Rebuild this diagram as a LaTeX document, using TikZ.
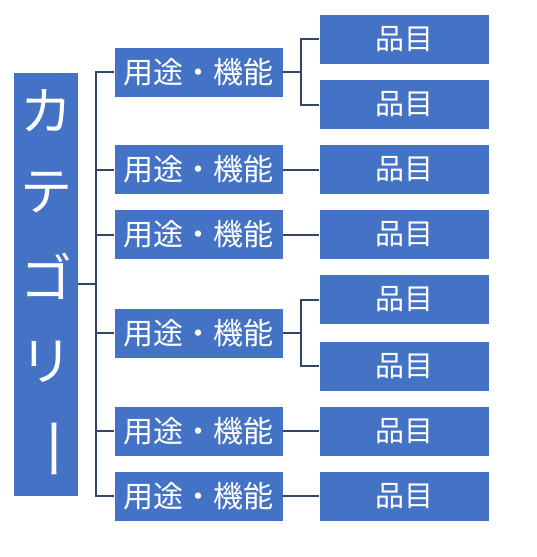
\documentclass[tikz,border=0pt]{standalone}
\usepackage{fontspec}
\newfontfamily\jpfont{Noto Sans CJK JP}
\definecolor{boxblue}{HTML}{4472C4}
\definecolor{linkcol}{HTML}{33466A}
\tikzset{
  catbox/.style={fill=boxblue, draw=none, minimum width=64pt, minimum height=423pt, inner sep=0pt},
  catchar/.style={text=white, font=\jpfont\fontsize{52}{52}\selectfont, inner sep=0pt},
  midbox/.style={fill=boxblue, draw=white, line width=0.6pt, minimum width=169pt, minimum height=50pt, inner sep=0pt, text=white, font=\jpfont\fontsize{30}{30}\selectfont},
  itembox/.style={fill=boxblue, draw=white, line width=0.6pt, minimum width=170pt, minimum height=50pt, inner sep=0pt, text=white, font=\jpfont\fontsize{29}{29}\selectfont},
  link/.style={draw=linkcol, line width=2pt}
}
\begin{document}
\begin{tikzpicture}[x=1pt,y=-1pt]
\useasboundingbox (0,0) rectangle (537,557);
% category
\node[catbox] (cat) at (46,284.5) {};
\node[catchar] (c1) at (46,111) {カ};
\node[catchar] (c2) at (46,193) {テ};
\node[catchar] (c3) at (46,276) {ゴ};
\node[catchar] (c4) at (46,362) {リ};
\node[catchar, rotate=-90] (c5) at (46,449) {\scalebox{1.25}[1]{ー}};
% middle boxes
\node[midbox] (m1) at (198.5,72) {用途・機能};
\node[midbox] (m2) at (198.5,169.5) {用途・機能};
\node[midbox] (m3) at (198.5,234.5) {用途・機能};
\node[midbox] (m4) at (198.5,333) {用途・機能};
\node[midbox] (m5) at (198.5,431) {用途・機能};
\node[midbox] (m6) at (198.5,496) {用途・機能};
% item boxes
\node[itembox] (i1) at (404,39) {品目};
\node[itembox] (i2) at (404,104.5) {品目};
\node[itembox] (i3) at (404,169.5) {品目};
\node[itembox] (i4) at (404,234.5) {品目};
\node[itembox] (i5) at (404,299.5) {品目};
\node[itembox] (i6) at (404,366) {品目};
\node[itembox] (i7) at (404,431) {品目};
\node[itembox] (i8) at (404,496) {品目};
% trunk
\coordinate (tk) at (96,284);
\draw[link] (cat.east |- tk) -- (tk);
\draw[link] (m1.west) -| (tk |- m1.west) |- (m6.west);
\draw[link] (tk |- m2.west) -- (m2.west);
\draw[link] (tk |- m3.west) -- (m3.west);
\draw[link] (tk |- m4.west) -- (m4.west);
\draw[link] (tk |- m5.west) -- (m5.west);
% middle to items
\coordinate (fk) at (301,0);
\draw[link] (m1.east) -- (fk |- m1.east);
\draw[link] (i1.west) -| (fk |- i1.west) |- (i2.west);
\draw[link] (m2.east) -- (m2.east -| i3.west);
\draw[link] (m3.east) -- (m3.east -| i4.west);
\draw[link] (m4.east) -- (fk |- m4.east);
\draw[link] (i5.west) -| (fk |- i5.west) |- (i6.west);
\draw[link] (m5.east) -- (m5.east -| i7.west);
\draw[link] (m6.east) -- (m6.east -| i8.west);
\end{tikzpicture}
\end{document}
